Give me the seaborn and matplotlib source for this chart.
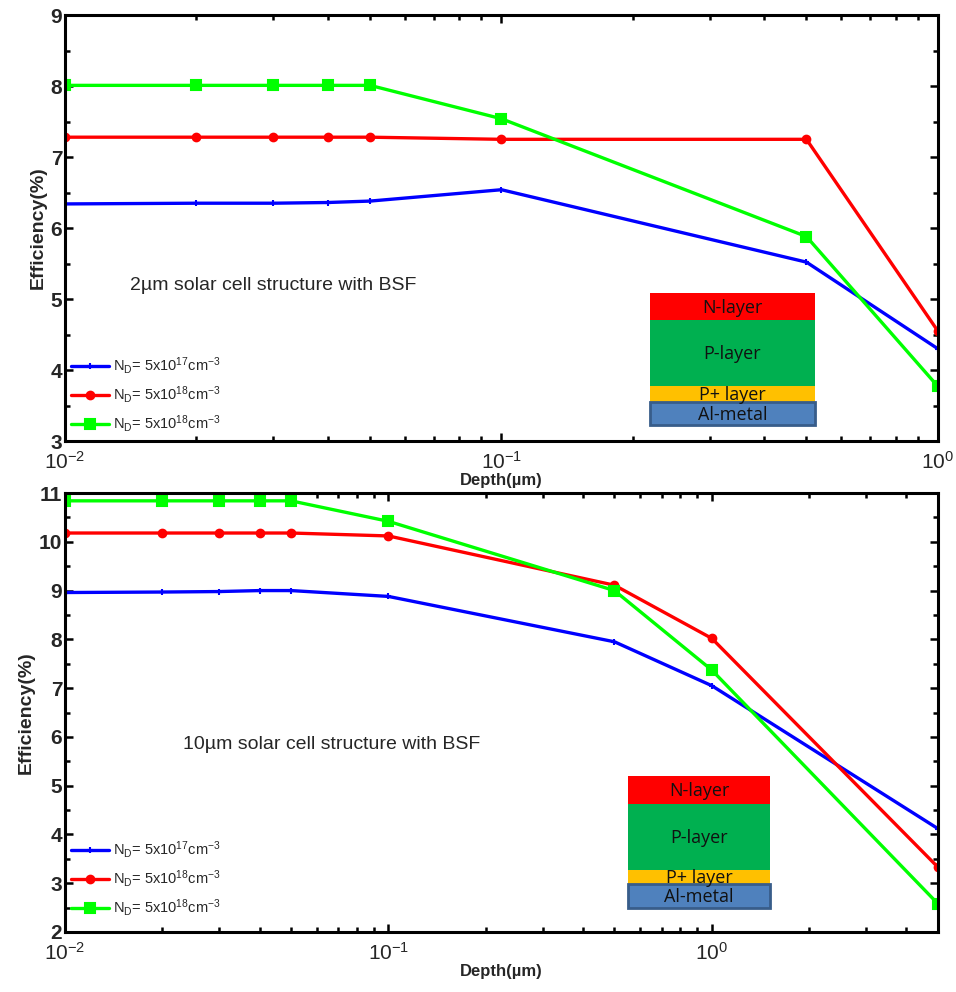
import numpy as np
import pandas as pd
import matplotlib
matplotlib.use("Agg")
import matplotlib.pyplot as plt
from matplotlib.patches import Rectangle
from matplotlib.ticker import MultipleLocator, LogLocator, NullFormatter
import seaborn as sns

# ---- data ----
depth_top = [0.01, 0.02, 0.03, 0.04, 0.05, 0.1, 0.5, 1.0]
blue_top = [6.34, 6.35, 6.35, 6.36, 6.38, 6.54, 5.52, 4.30]
red_top = [7.28, 7.28, 7.28, 7.28, 7.28, 7.25, 7.25, 4.55]
green_top = [8.01, 8.01, 8.01, 8.01, 8.01, 7.54, 5.88, 3.77]

depth_bot = [0.01, 0.02, 0.03, 0.04, 0.05, 0.1, 0.5, 1.0, 5.0]
blue_bot = [8.96, 8.97, 8.98, 9.00, 9.00, 8.88, 7.95, 7.05, 4.12]
red_bot = [10.18, 10.18, 10.18, 10.18, 10.18, 10.12, 9.11, 8.02, 3.33]
green_bot = [10.84, 10.84, 10.84, 10.84, 10.84, 10.42, 9.00, 7.37, 2.58]

labels = [r"N$_\mathrm{D}$= 5x10$^{17}$cm$^{-3}$",
          r"N$_\mathrm{D}$= 5x10$^{18}$cm$^{-3}$",
          r"N$_\mathrm{D}$= 5x10$^{18}$cm$^{-3}$"]
colors = ["#0000FF", "#FF0000", "#00FF00"]
markers = ["+", "o", "s"]
msizes = [4, 5.5, 7]
layer_names = ["N-layer", "P-layer", "P+ layer", "Al-metal"]
layer_colors = ["#FF0000", "#00B050", "#FFC000", "#4F81BD"]

sns.set_style("ticks")
plt.rcParams['font.family'] = ['Liberation Sans', 'DejaVu Sans']
plt.rcParams['mathtext.fontset'] = 'custom'
plt.rcParams['mathtext.rm'] = 'Liberation Sans'
plt.rcParams['mathtext.it'] = 'Liberation Sans:italic'
plt.rcParams['mathtext.bf'] = 'Liberation Sans:bold'

fig = plt.figure(figsize=(9.56, 9.92), dpi=100)
ax1 = fig.add_axes([0.068, 0.5554, 0.913, 0.4294])
ax2 = fig.add_axes([0.068, 0.0605, 0.913, 0.4425])


def draw(ax, depth, series, xlim, ylim, text, text_pos, box_x, box_y, leg_y):
    for vals, c, m, ms, lab in zip(series, colors, markers, msizes, labels):
        df = pd.DataFrame({"Depth": depth, "Eff": vals})
        sns.lineplot(data=df, x="Depth", y="Eff", ax=ax, color=c, marker=m,
                     markersize=ms, markeredgecolor=c, markeredgewidth=1.5,
                     linewidth=2.4, label=lab)
    ax.set_xscale("log")
    ax.set_xlim(*xlim)
    ax.set_ylim(*ylim)
    ax.yaxis.set_major_locator(MultipleLocator(1))
    ax.yaxis.set_minor_locator(MultipleLocator(0.5))
    ax.xaxis.set_major_locator(LogLocator(base=10))
    ax.xaxis.set_minor_locator(LogLocator(base=10, subs=np.arange(2, 10)))
    ax.xaxis.set_minor_formatter(NullFormatter())
    ax.tick_params(which="both", direction="in", top=True, right=True,
                   width=1.8, color="black")
    ax.tick_params(which="major", length=6)
    ax.tick_params(which="minor", length=3.5)
    ax.tick_params(axis="x", pad=7, labelsize=15)
    ax.tick_params(axis="y", pad=2, labelsize=15)
    for lab in ax.get_yticklabels():
        lab.set_fontweight("bold")
    for sp in ax.spines.values():
        sp.set_linewidth(2.2)
        sp.set_color("black")
        sp.set_visible(True)
    ax.set_xlabel("Depth(\u00b5m)", fontsize=12, fontweight="bold", labelpad=0)
    ax.set_ylabel("Efficiency(%)", fontsize=14, fontweight="bold", labelpad=3)
    ax.text(text_pos[0], text_pos[1], text, transform=ax.transAxes,
            fontsize=14, va="center", ha="left")
    # layer stack
    x0, x1 = box_x
    for i in range(4):
        top, bot = box_y[i], box_y[i + 1]
        ec = "#385D8A" if i == 3 else layer_colors[i]
        ax.add_patch(Rectangle((x0, bot), x1 - x0, top - bot,
                               transform=ax.transAxes, facecolor=layer_colors[i],
                               edgecolor=ec, linewidth=2 if i == 3 else 0,
                               zorder=5))
        ax.text((x0 + x1) / 2, (top + bot) / 2 - 0.003, layer_names[i],
                transform=ax.transAxes, ha="center", va="center",
                fontsize=13, family="Open Sans", color="#111111", zorder=6)
    ax.legend(loc="upper left", bbox_to_anchor=(-0.005, leg_y),
              frameon=False, fontsize=10.5, handlelength=2.6,
              handletextpad=0.3, labelspacing=0.55, borderpad=0.2)


draw(ax1, depth_top, [blue_top, red_top, green_top], (0.01, 1.0), (3, 9),
     "2\u00b5m solar cell structure with BSF", (0.074, 0.366),
     (0.670, 0.859), [0.347, 0.284, 0.129, 0.0915, 0.0376], 0.225)
draw(ax2, depth_bot, [blue_bot, red_bot, green_bot], (0.01, 5.0), (2, 11),
     "10\u00b5m solar cell structure with BSF", (0.135, 0.427),
     (0.645, 0.8076), [0.355, 0.2916, 0.1412, 0.1093, 0.0547], 0.235)

fig.savefig("out.png", dpi=100)
